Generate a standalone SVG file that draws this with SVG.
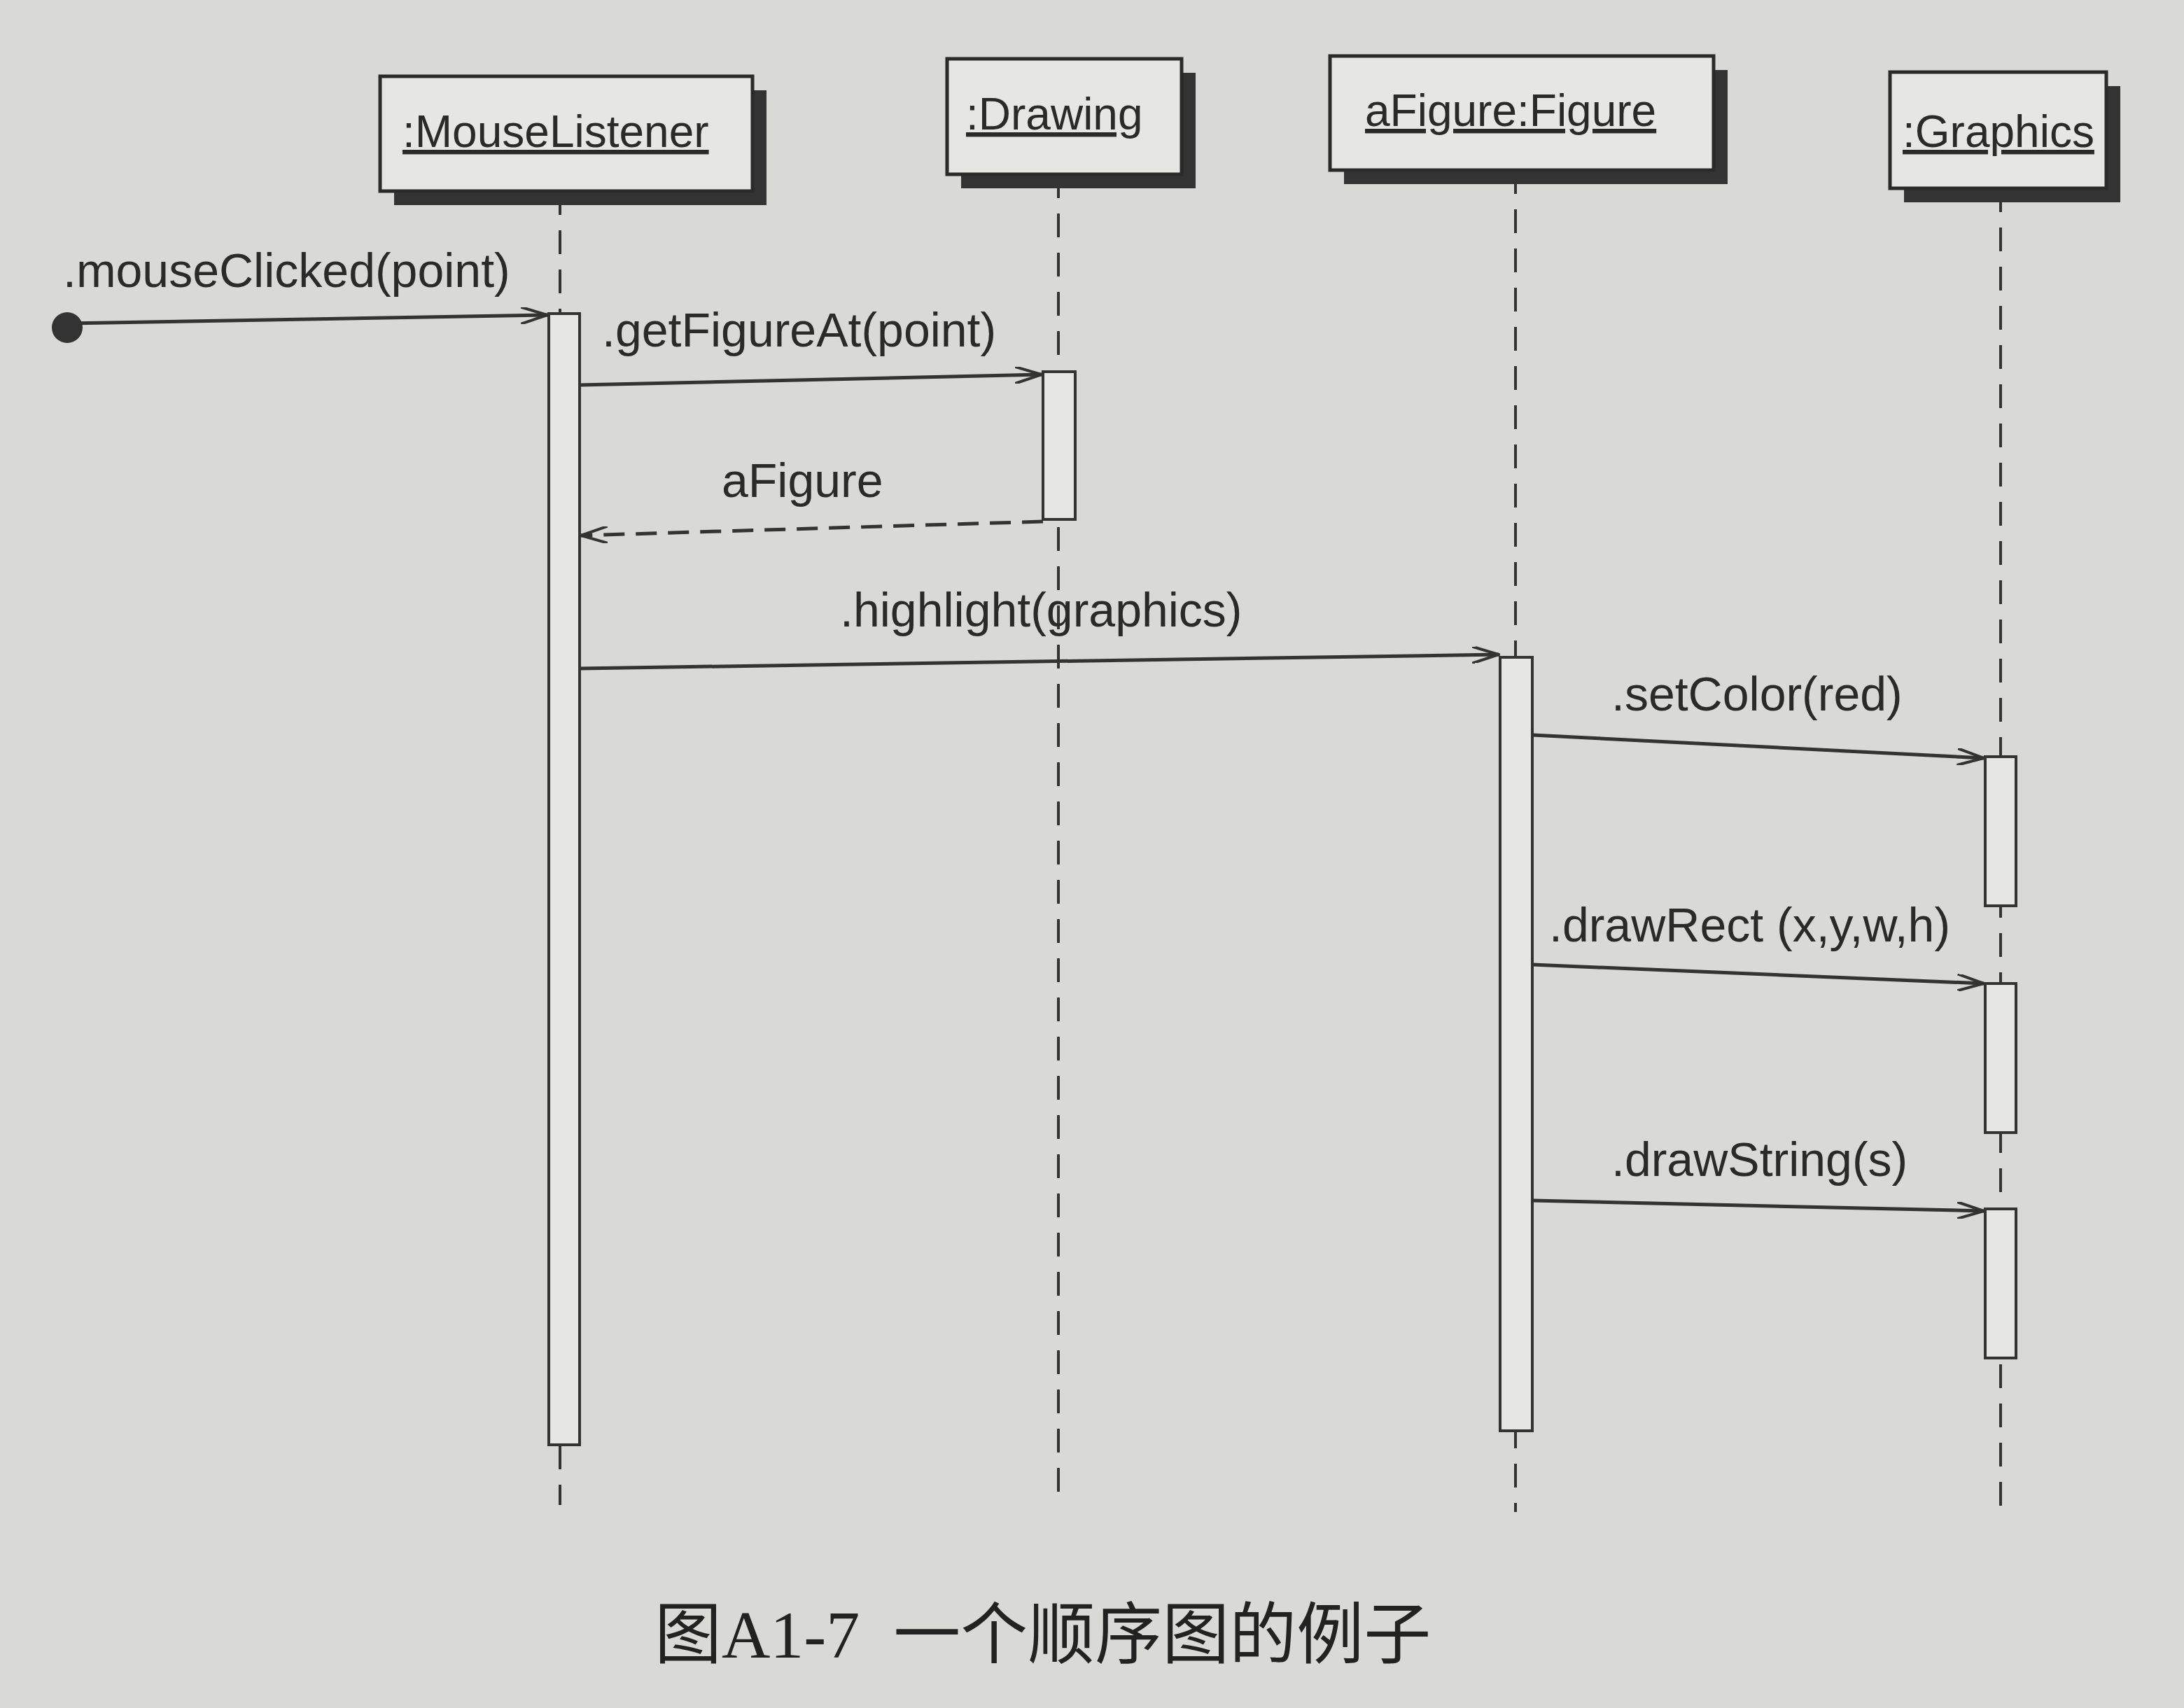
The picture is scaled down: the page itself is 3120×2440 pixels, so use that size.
<svg xmlns="http://www.w3.org/2000/svg" width="3120" height="2440" viewBox="0 0 3120 2440">
<style>
.t{font-family:"Liberation Sans",Arial,sans-serif;font-size:68px;fill:#2a2a2a}
.h{font-family:"Liberation Sans",Arial,sans-serif;font-size:64px;fill:#2a2a2a;text-decoration:underline}
.life{stroke:#333;stroke-width:4;stroke-dasharray:34 22;fill:none}
.box{fill:#e6e6e4;stroke:#2a2a2a;stroke-width:5}
.sh{fill:#333}
.act{fill:#e6e6e4;stroke:#333;stroke-width:4}
.msg{stroke:#333;stroke-width:5;fill:none;marker-end:url(#a)}
.ret{stroke:#333;stroke-width:5;fill:none;stroke-dasharray:30 16;marker-end:url(#a)}
.cap{font-family:"Liberation Serif","Noto Sans CJK SC",serif;font-size:96px;fill:#222}
</style>
<defs><marker id="a" markerWidth="40" markerHeight="24" refX="38" refY="12" orient="auto" markerUnits="userSpaceOnUse"><path d="M0,0 L38,12 L0,24" fill="none" stroke="#333" stroke-width="4"/></marker></defs>
<rect width="3120" height="2440" fill="#d9d9d7"/>
<g id="lifelines">
<line class="life" x1="800" y1="273" x2="800" y2="2150"/>
<line class="life" x1="1512" y1="249" x2="1512" y2="2150"/>
<line class="life" x1="2165" y1="243" x2="2165" y2="2160"/>
<line class="life" x1="2858" y1="269" x2="2858" y2="2170"/>
</g>
<g id="n-mouselistener"><rect class="sh" x="563" y="129" width="532" height="164"/><rect class="box" x="543" y="109" width="532" height="164"/><text class="h" x="575" y="210">:MouseListener</text></g>
<g id="n-drawing"><rect class="sh" x="1373" y="104" width="335" height="165"/><rect class="box" x="1353" y="84" width="335" height="165"/><text class="h" x="1380" y="185">:Drawing</text></g>
<g id="n-figure"><rect class="sh" x="1920" y="100" width="548" height="163"/><rect class="box" x="1900" y="80" width="548" height="163"/><text class="h" x="1950" y="180">aFigure:Figure</text></g>
<g id="n-graphics"><rect class="sh" x="2720" y="123" width="309" height="166"/><rect class="box" x="2700" y="103" width="309" height="166"/><text class="h" x="2718" y="210">:Graphics</text></g>
<g id="activations">
<rect class="act" x="784" y="448" width="44" height="1616"/>
<rect class="act" x="1490" y="531" width="46" height="211"/>
<rect class="act" x="2143" y="939" width="46" height="1105"/>
<rect class="act" x="2836" y="1081" width="44" height="213"/>
<rect class="act" x="2836" y="1405" width="44" height="213"/>
<rect class="act" x="2836" y="1727" width="44" height="213"/>
</g>
<g id="connectors">
<circle cx="96" cy="468" r="22" fill="#333"/>
<line class="msg" x1="96" y1="462" x2="782" y2="450"/>
<line class="msg" x1="828" y1="550" x2="1488" y2="535"/>
<line class="ret" x1="1490" y1="745" x2="830" y2="765"/>
<line class="msg" x1="828" y1="955" x2="2141" y2="935"/>
<line class="msg" x1="2189" y1="1050" x2="2834" y2="1083"/>
<line class="msg" x1="2189" y1="1378" x2="2834" y2="1405"/>
<line class="msg" x1="2189" y1="1715" x2="2834" y2="1730"/>
</g>
<g id="labels">
<text class="t" x="90" y="410">.mouseClicked(point)</text>
<text class="t" x="860" y="495">.getFigureAt(point)</text>
<text class="t" x="1031" y="710">aFigure</text>
<text class="t" x="1200" y="895">.highlight(graphics)</text>
<text class="t" x="2302" y="1015">.setColor(red)</text>
<text class="t" x="2213" y="1345">.drawRect (x,y,w,h)</text>
<text class="t" x="2302" y="1680">.drawString(s)</text>
<text class="cap" x="935" y="2368" xml:space="preserve">图A1-7  一个顺序图的例子</text>
</g>
</svg>
